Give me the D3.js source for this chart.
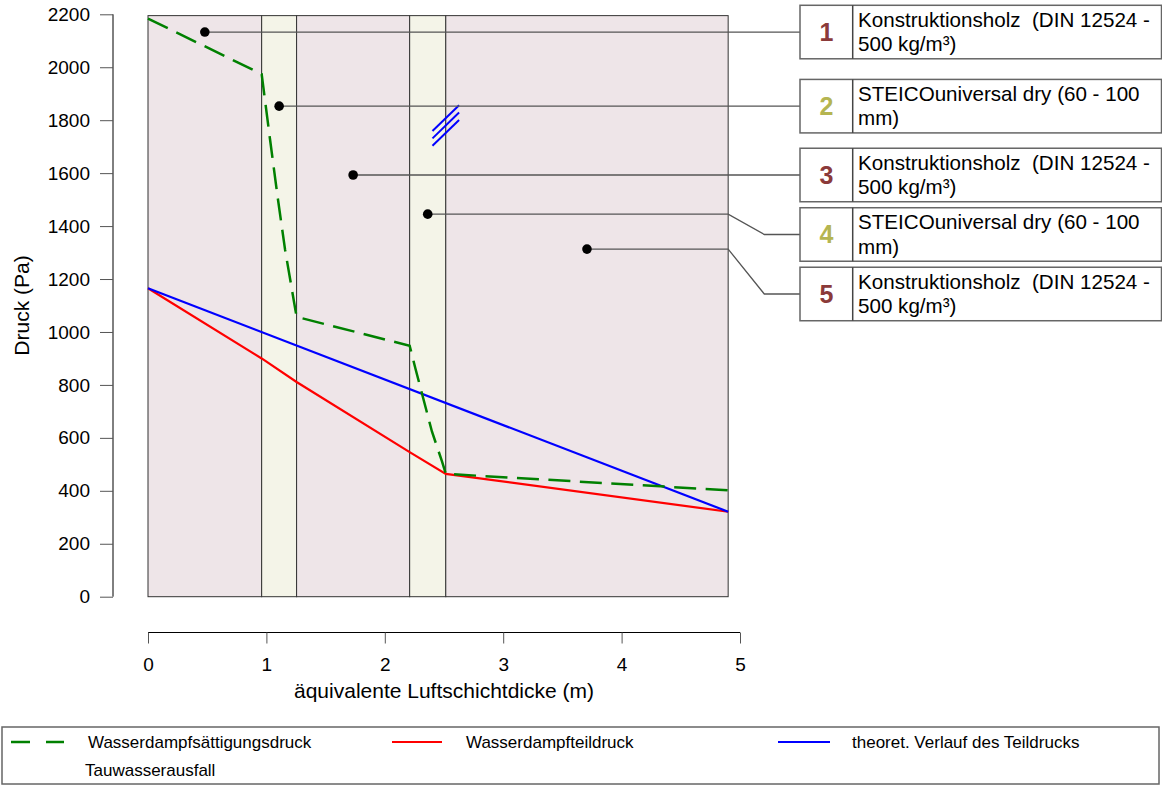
<!DOCTYPE html>
<html>
<head>
<meta charset="utf-8">
<script src="https://cdn.jsdelivr.net/npm/d3@7"></script>
<style>
  html, body { margin: 0; padding: 0; background: #fff; }
  svg { display: block; font-family: "Liberation Sans", Arial, sans-serif; }
  text { white-space: pre; }
</style>
</head>
<body>
<svg id="chart" width="1162" height="785"></svg>
<script>
// ---------- data ----------
const layerBounds = [0, 0.96, 1.255, 2.21, 2.515, 4.9];
const layerTypes = ["wood", "steico", "wood", "steico", "wood"];
const layerNumbers = ["1", "2", "3", "4", "5"];
const layerNames = [
  ["Konstruktionsholz  (DIN 12524 -", "500 kg/m³)"],
  ["STEICOuniversal dry (60 - 100", "mm)"],
  ["Konstruktionsholz  (DIN 12524 -", "500 kg/m³)"],
  ["STEICOuniversal dry (60 - 100", "mm)"],
  ["Konstruktionsholz  (DIN 12524 -", "500 kg/m³)"]
];
const labelPressure = [2133, 1853, 1593, 1445, 1313];

const satX = [0, 0.96, 1.03, 1.096, 1.158, 1.255, 2.21, 2.258, 2.398, 2.483, 2.515, 4.9];
const satP = [2184, 1974, 1730, 1506, 1310, 1057, 948, 863, 624, 511, 464, 402];

const partX = [0, 0.96, 1.255, 2.21, 2.515, 4.9];
const partP = [1165, 900, 811, 546, 464, 321];

const theoX = [0, 4.9];
const theoP = [1165, 321];

const condX = [2.515];
const condP = [1780];

const xTicks = [0, 1, 2, 3, 4, 5];
const yTicks = [0, 200, 400, 600, 800, 1000, 1200, 1400, 1600, 1800, 2000, 2200];

const legendItems = ["Wasserdampfsättigungsdruck", "Wasserdampfteildruck", "theoret. Verlauf des Teildrucks", "Tauwasserausfall"];

// ---------- drawing ----------
const svg = d3.select("#chart");
const x = d3.scaleLinear().domain([0, 5]).range([148, 740]);
const y = d3.scaleLinear().domain([0, 2200]).range([596.7, 14.3]);

const fillFor = { wood: "#EEE5E8", steico: "#F4F4E8" };
const numColor = { wood: "#8B3A3A", steico: "#B5B551" };

const plotTop = y(2195), plotBottom = y(0);
// layers
const layers = layerTypes.map((t, i) => ({ t, x0: layerBounds[i], x1: layerBounds[i + 1], i }));
svg.append("g").selectAll("rect").data(layers).join("rect")
  .attr("x", d => x(d.x0)).attr("y", plotTop)
  .attr("width", d => x(d.x1) - x(d.x0)).attr("height", plotBottom - plotTop)
  .attr("fill", d => fillFor[d.t]).attr("stroke", "#333").attr("stroke-width", 1);

// y axis
const yAxis = d3.axisLeft(y).tickValues(yTicks).tickSize(13).tickPadding(10).tickFormat(d3.format("d"));
const ya = svg.append("g").attr("transform", "translate(113,0)").call(yAxis);
ya.select(".domain").attr("stroke", "#000").attr("d", `M0,${y(2200)}V${y(0)}`);
ya.selectAll(".tick line").attr("stroke", "#555");
ya.selectAll("text").attr("font-size", 19).attr("fill", "#000").attr("font-family", "Liberation Sans, Arial, sans-serif");

svg.append("text").attr("transform", `translate(29,${(y(0) + y(2200)) / 2}) rotate(-90)`)
  .attr("text-anchor", "middle").attr("font-size", 21).text("Druck (Pa)");

// x axis
const xAxis = d3.axisBottom(x).tickValues(xTicks).tickSize(11).tickPadding(14).tickFormat(d3.format("d"));
const xa = svg.append("g").attr("transform", "translate(0,632.5)").call(xAxis);
xa.select(".domain").attr("stroke", "#000").attr("d", `M${x(0)},0H${x(5)}`);
xa.selectAll(".tick line").attr("stroke", "#555");
xa.selectAll("text").attr("font-size", 19).attr("fill", "#000").attr("font-family", "Liberation Sans, Arial, sans-serif");
svg.append("text").attr("x", (x(0) + x(5)) / 2).attr("y", 697.5)
  .attr("text-anchor", "middle").attr("font-size", 21).text("äquivalente Luftschichtdicke (m)");

// lines
const line = d3.line().x(d => x(d[0])).y(d => y(d[1]));
svg.append("path").datum(partX.map((v, i) => [v, partP[i]])).attr("d", line)
  .attr("fill", "none").attr("stroke", "#FF0000").attr("stroke-width", 2.2);
svg.append("path").datum(theoX.map((v, i) => [v, theoP[i]])).attr("d", line)
  .attr("fill", "none").attr("stroke", "#0000FF").attr("stroke-width", 2.2);
svg.append("path").datum(satX.map((v, i) => [v, satP[i]])).attr("d", line)
  .attr("fill", "none").attr("stroke", "#008000").attr("stroke-width", 2.5)
  .attr("stroke-dasharray", "22,9.5");

// condensation hatch marks
condX.forEach((cx, i) => {
  const px = x(cx), py = y(condP[i]);
  [-7.4, 0, 7.4].forEach(off => {
    svg.append("line").attr("x1", px - 13.3).attr("y1", py + off + 12.9)
      .attr("x2", px + 13.3).attr("y2", py + off - 12.9)
      .attr("stroke", "#0000FF").attr("stroke-width", 2);
  });
});

// labels: leader lines, dots, boxes
const boxH = 53.5, boxGap = 6, boxX = 800, divX = 852.7, boxR = 1161.5;
let prevBottom = -Infinity;
const boxes = layers.map((d, i) => {
  const dy = y(labelPressure[i]);
  let top0 = dy - boxH / 2;
  if (top0 < prevBottom + boxGap) top0 = prevBottom + boxGap;
  prevBottom = top0 + boxH;
  return { d, dx: x((d.x0 + d.x1) / 2), dy, top: top0, cy: top0 + boxH / 2 };
});
const plotRight = x(layerBounds[layerBounds.length - 1]);
boxes.forEach(b => {
  svg.append("path")
    .attr("d", `M${b.dx},${b.dy}H${plotRight}L764.3,${b.cy}H${boxX}`)
    .attr("fill", "none").attr("stroke", "#555").attr("stroke-width", 1.3);
  svg.append("circle").attr("cx", b.dx).attr("cy", b.dy).attr("r", 4.8).attr("fill", "#000");
  svg.append("rect").attr("x", boxX).attr("y", b.top).attr("width", boxR - boxX).attr("height", boxH)
    .attr("fill", "#fff").attr("stroke", "#666").attr("stroke-width", 1.5);
  svg.append("line").attr("x1", divX).attr("x2", divX).attr("y1", b.top).attr("y2", b.top + boxH)
    .attr("stroke", "#444").attr("stroke-width", 1.5);
  svg.append("text").attr("x", (boxX + divX) / 2).attr("y", b.cy + 9)
    .attr("text-anchor", "middle").attr("font-size", 25).attr("font-weight", "bold")
    .attr("fill", numColor[b.d.t]).text(layerNumbers[b.d.i]);
  layerNames[b.d.i].forEach((ln, k) => {
    svg.append("text").attr("x", 858).attr("y", b.top + 21.5 + k * 24.5)
      .attr("font-size", 20.6).attr("fill", "#000").text(ln);
  });
});

// bottom legend
const lg = svg.append("g");
lg.append("rect").attr("x", 2).attr("y", 727).attr("width", 1157).attr("height", 57)
  .attr("fill", "#fff").attr("stroke", "#666").attr("stroke-width", 1.5);
const rowY = 742;
lg.append("line").attr("x1", 11).attr("x2", 64).attr("y1", rowY).attr("y2", rowY)
  .attr("stroke", "#008000").attr("stroke-width", 2.5).attr("stroke-dasharray", "19,16");
lg.append("line").attr("x1", 392).attr("x2", 442).attr("y1", rowY).attr("y2", rowY)
  .attr("stroke", "#FF0000").attr("stroke-width", 2.2);
lg.append("line").attr("x1", 778).attr("x2", 830).attr("y1", rowY).attr("y2", rowY)
  .attr("stroke", "#0000FF").attr("stroke-width", 2.2);
const lx = [88, 466, 852, 85], ly = [rowY, rowY, rowY, 770];
legendItems.forEach((t, i) => {
  lg.append("text").attr("x", lx[i]).attr("y", ly[i] + 6).attr("font-size", 17).attr("fill", "#000").text(t);
});
</script>
</body>
</html>
